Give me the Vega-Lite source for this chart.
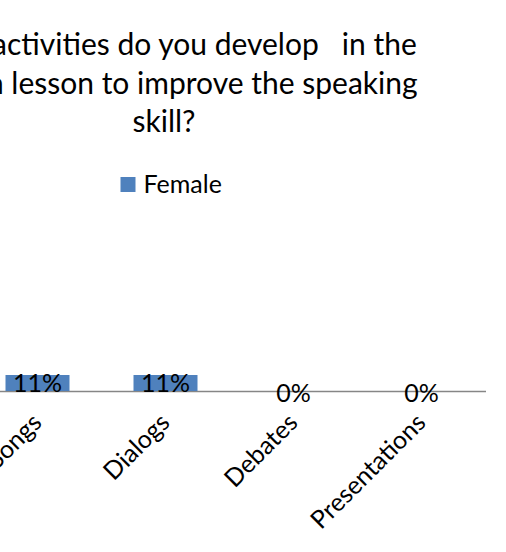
{
  "$schema": "https://vega.github.io/schema/vega-lite/v6.json",
  "autosize": "none",
  "width": 512,
  "height": 145,
  "padding": {"left": -26.5, "top": 246, "right": 21, "bottom": 161},
  "background": "white",
  "config": {"view": {"stroke": null}, "font": "Lato"},
  "title": {
    "text": ["What activities do you develop \u00a0 in the", "English lesson to improve the speaking", "skill?"],
    "fontSize": 30,
    "fontWeight": "normal",
    "font": "Lato",
    "color": "black",
    "anchor": "middle",
    "frame": "group",
    "dx": -65.5,
    "offset": 34,
    "lineHeight": 38.5
  },
  "data": {
    "values": [
      {"activity": "Songs", "series": "Female", "pct": 0.11},
      {"activity": "Dialogs", "series": "Female", "pct": 0.11},
      {"activity": "Debates", "series": "Female", "pct": 0},
      {"activity": "Presentations", "series": "Female", "pct": 0}
    ]
  },
  "encoding": {
    "x": {
      "field": "activity",
      "type": "nominal",
      "sort": null,
      "scale": {"paddingInner": 0.5, "paddingOuter": 0.25},
      "axis": {
        "title": null,
        "labelAngle": -45,
        "labelFontSize": 25,
        "labelFont": "Lato",
        "labelColor": "black",
        "ticks": false,
        "domainColor": "#868686",
        "domainWidth": 1.5,
        "labelPadding": 27,
        "labelAlign": "right",
        "labelBaseline": "middle"
      }
    }
  },
  "layer": [
    {
      "mark": {"type": "bar"},
      "encoding": {
        "y": {"field": "pct", "type": "quantitative", "scale": {"domain": [0, 1]}, "axis": null},
        "color": {
          "field": "series",
          "type": "nominal",
          "scale": {"range": ["#4F81BD"]},
          "legend": {
            "orient": "none",
            "legendX": 142,
            "legendY": -74,
            "title": null,
            "symbolType": "square",
            "symbolSize": 225,
            "symbolStrokeWidth": 0,
            "labelFontSize": 25,
            "labelFont": "Lato",
            "labelColor": "black",
            "labelOffset": 3,
            "padding": 0
          }
        }
      }
    },
    {
      "transform": [{"filter": "datum.pct > 0"}],
      "mark": {"type": "text", "baseline": "middle", "dy": 9, "fontSize": 25, "font": "Lato", "color": "black"},
      "encoding": {
        "y": {"field": "pct", "type": "quantitative"},
        "text": {"field": "pct", "type": "quantitative", "format": ".0%"}
      }
    },
    {
      "transform": [{"filter": "datum.pct == 0"}],
      "mark": {"type": "text", "baseline": "middle", "dy": 3, "fontSize": 25, "font": "Lato", "color": "black"},
      "encoding": {
        "y": {"field": "pct", "type": "quantitative"},
        "text": {"field": "pct", "type": "quantitative", "format": ".0%"}
      }
    }
  ]
}
